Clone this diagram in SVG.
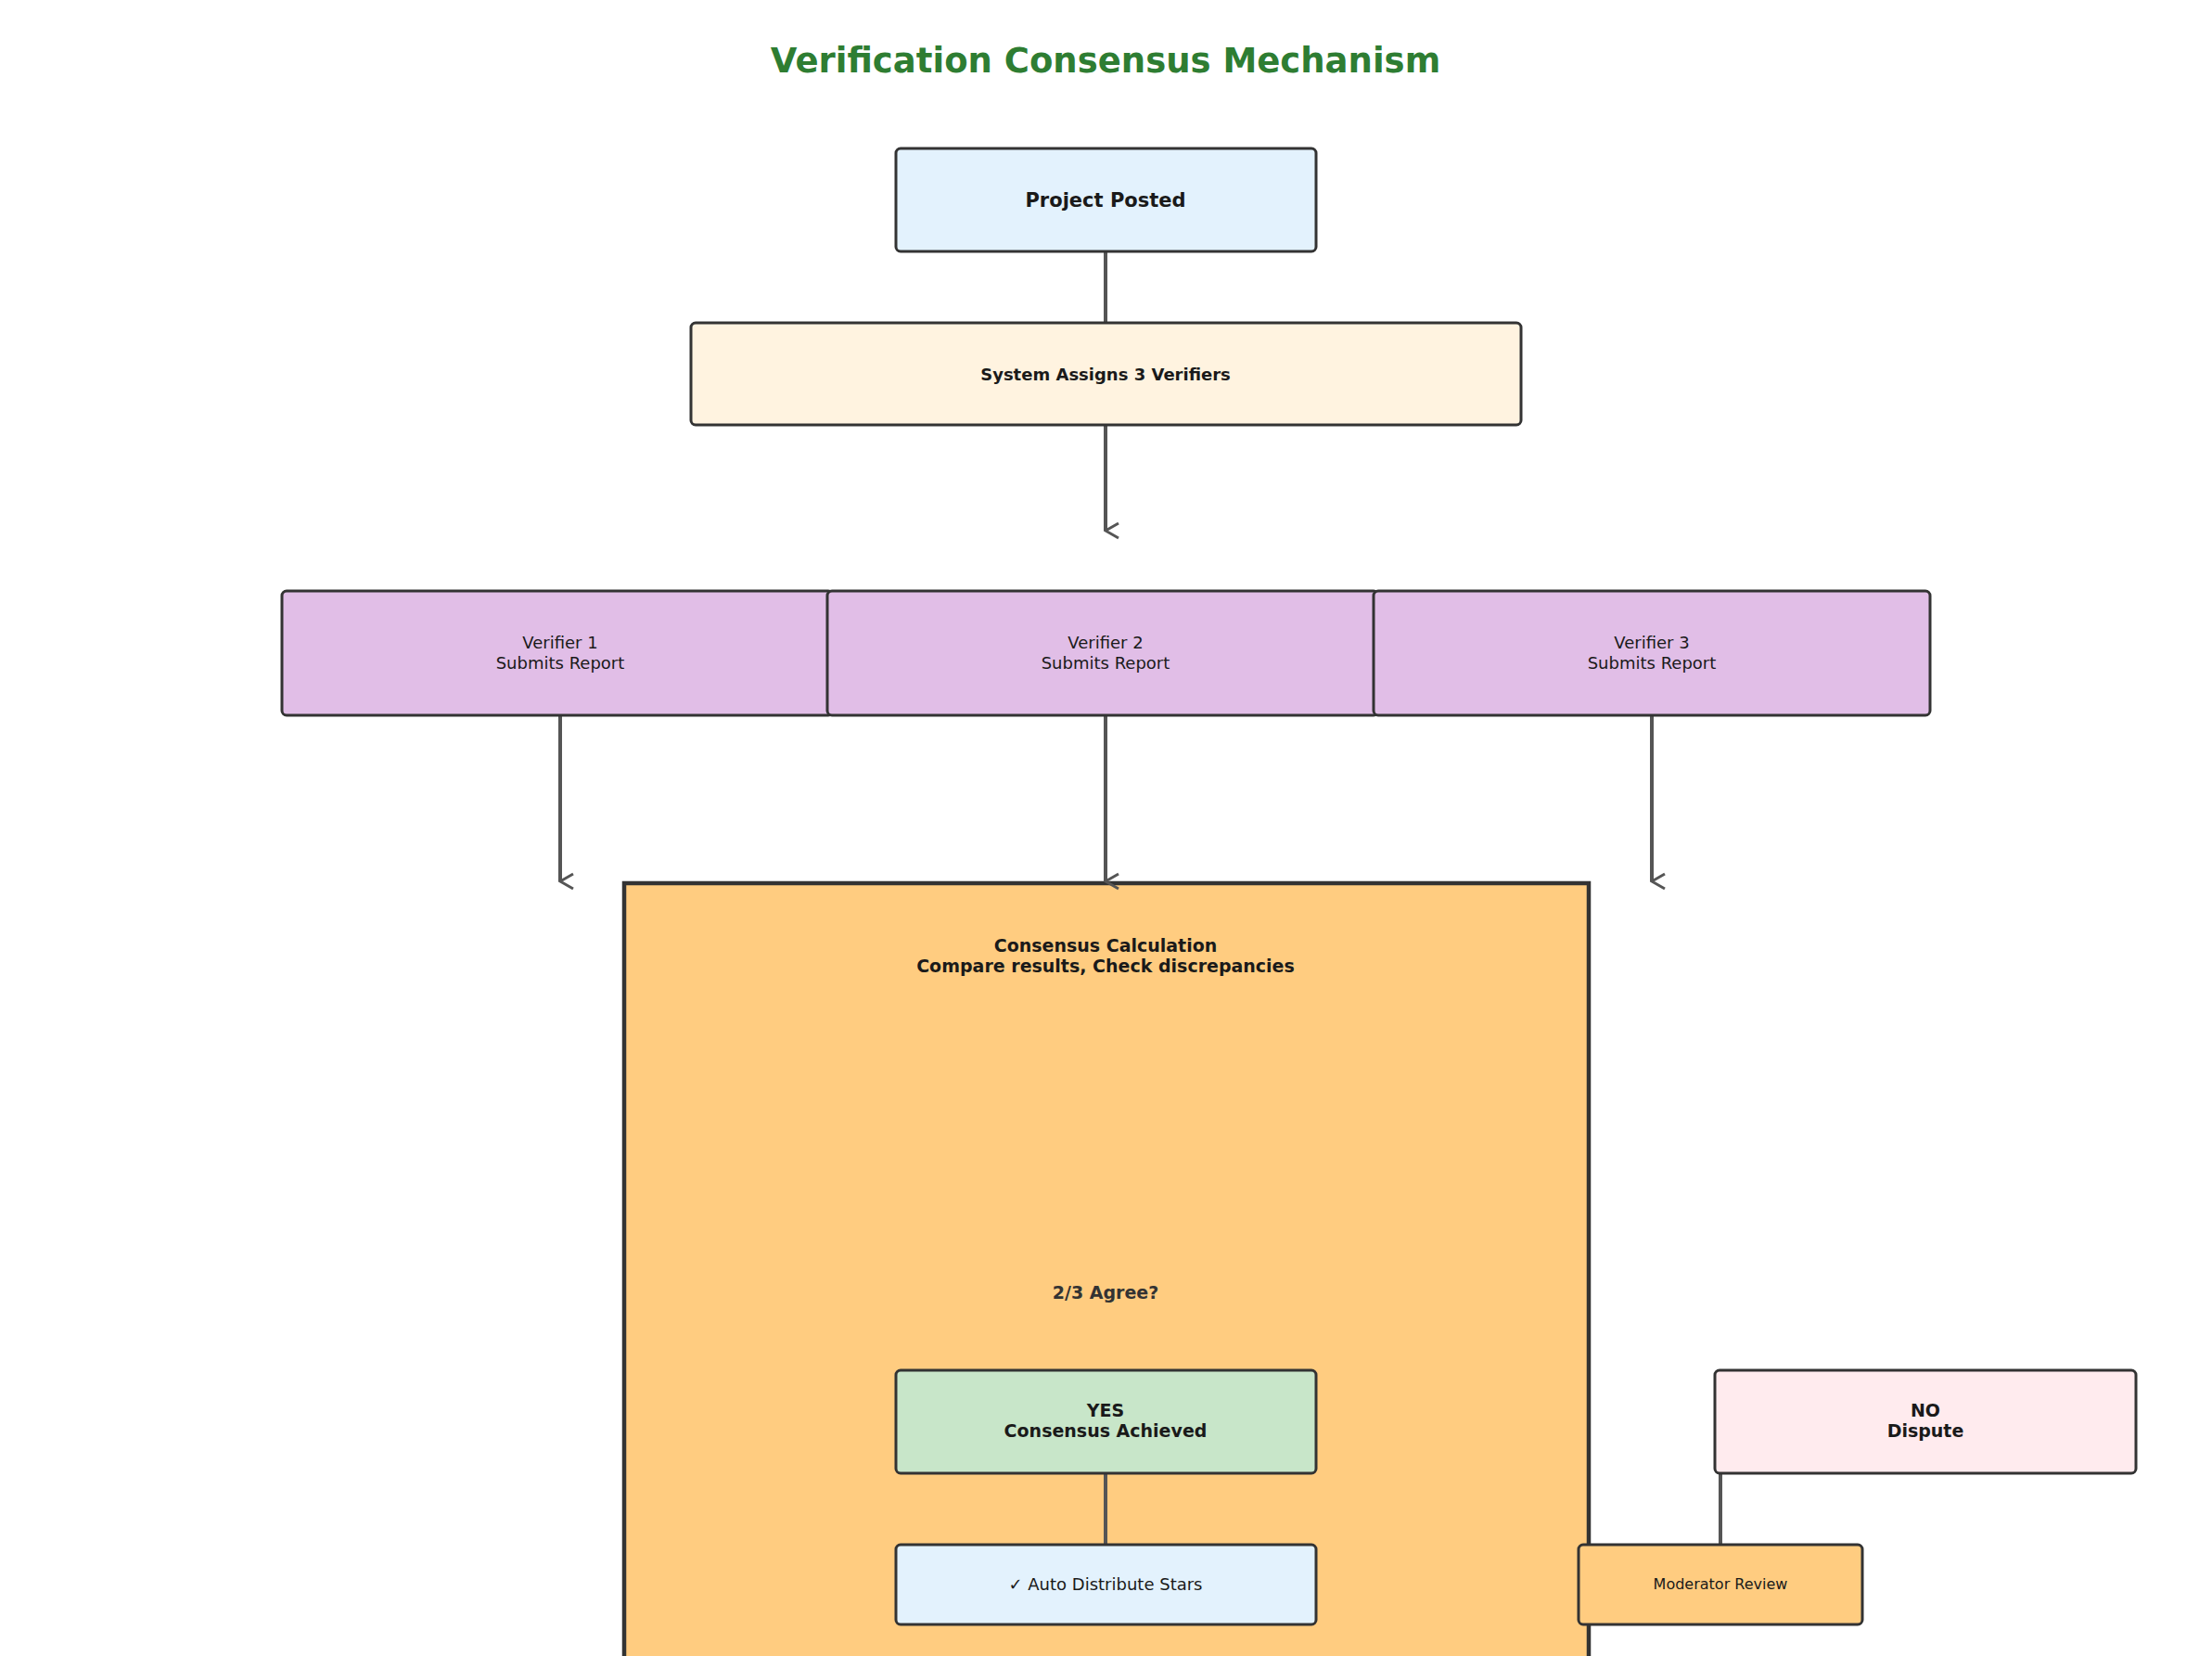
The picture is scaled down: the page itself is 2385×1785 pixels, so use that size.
<svg xmlns="http://www.w3.org/2000/svg" width="2385" height="1785" viewBox="0 0 2385 1785">
<defs>
<style>
text{font-family:"DejaVu Sans","Liberation Sans",sans-serif;fill:#1a1a1a;text-anchor:middle}
.b{font-weight:bold}
.box{stroke:#333;stroke-width:3}
.c{stroke:#555;stroke-width:4;fill:none}
</style>
<marker id="ah" viewBox="0 0 20 20" refX="10" refY="18" markerWidth="20" markerHeight="20" markerUnits="userSpaceOnUse" orient="auto-start-reverse">
<path d="M2 4 L10 18 L18 4" fill="none" stroke="#555" stroke-width="3"/>
</marker>
</defs>
<rect width="2385" height="1785" fill="#fff"/>
<text x="1192" y="78" class="b" style="font-size:37px;fill:#2E7D32">Verification Consensus Mechanism</text>
<g id="consensus"><rect x="673" y="952" width="1040" height="850" fill="#FFCC80" stroke="#333" stroke-width="4.5"/>
<text x="1192" y="1026" class="b" font-size="19">Consensus Calculation</text>
<text x="1192" y="1048" class="b" font-size="19">Compare results, Check discrepancies</text>
<text x="1192" y="1400" class="b" font-size="19" style="fill:#333">2/3 Agree?</text></g>
<g id="connectors">
<line class="c" x1="1192" y1="271" x2="1192" y2="348"/>
<line class="c" x1="1192" y1="458" x2="1192" y2="572" marker-end="url(#ah)"/>
<line class="c" x1="604" y1="771" x2="604" y2="950" marker-end="url(#ah)"/>
<line class="c" x1="1192" y1="771" x2="1192" y2="950" marker-end="url(#ah)"/>
<line class="c" x1="1781" y1="771" x2="1781" y2="950" marker-end="url(#ah)"/>
<line class="c" x1="1192" y1="1586" x2="1192" y2="1665"/>
<line class="c" x1="1855" y1="1586" x2="1855" y2="1665"/>
</g>
<g id="project"><rect class="box" x="966" y="160" width="453" height="111" rx="5" fill="#E3F2FD"/><text x="1192" y="223" class="b" font-size="21">Project Posted</text></g>
<g id="assign"><rect class="box" x="745" y="348" width="895" height="110" rx="5" fill="#FFF3E0"/><text x="1192" y="410" class="b" font-size="18">System Assigns 3 Verifiers</text></g>
<g id="v1"><rect class="box" x="304" y="637" width="594" height="134" rx="5" fill="#E1BEE7"/><text x="604" y="699" font-size="18">Verifier 1</text><text x="604" y="721" font-size="18">Submits Report</text></g>
<g id="v2"><rect class="box" x="892" y="637" width="594" height="134" rx="5" fill="#E1BEE7"/><text x="1192" y="699" font-size="18">Verifier 2</text><text x="1192" y="721" font-size="18">Submits Report</text></g>
<g id="v3"><rect class="box" x="1481" y="637" width="600" height="134" rx="5" fill="#E1BEE7"/><text x="1781" y="699" font-size="18">Verifier 3</text><text x="1781" y="721" font-size="18">Submits Report</text></g>
<g id="yes"><rect class="box" x="966" y="1477" width="453" height="111" rx="5" fill="#C8E6C9"/><text x="1192" y="1527" class="b" font-size="19">YES</text><text x="1192" y="1549" class="b" font-size="19">Consensus Achieved</text></g>
<g id="auto"><rect class="box" x="966" y="1665" width="453" height="86" rx="5" fill="#E3F2FD"/><text x="1192" y="1714" font-size="18">✓ Auto Distribute Stars</text></g>
<g id="no"><rect class="box" x="1849" y="1477" width="454" height="111" rx="5" fill="#FFEBEE"/><text x="2076" y="1527" class="b" font-size="19">NO</text><text x="2076" y="1549" class="b" font-size="19">Dispute</text></g>
<g id="moderator"><rect class="box" x="1702" y="1665" width="306" height="86" rx="5" fill="#FFCC80"/><text x="1855" y="1713" font-size="16">Moderator Review</text></g>
</svg>
